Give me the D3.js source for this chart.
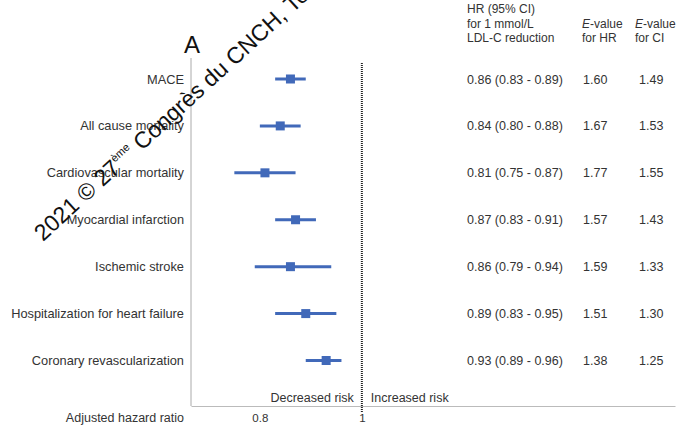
<!DOCTYPE html>
<html>
<head>
<meta charset="utf-8">
<script src="https://cdn.jsdelivr.net/npm/d3@7"></script>
<style>
  body { margin: 0; background: #fff; }
  svg { display: block; font-family: "Liberation Sans", Arial, sans-serif; }
</style>
</head>
<body>
<svg id="chart" width="687" height="425"></svg>
<script>
// Forest plot: HR per 1 mmol/L LDL-C reduction

const outcomes = ['MACE', 'All cause mortality', 'Cardiovascular mortality', 'Myocardial infarction',
  'Ischemic stroke', 'Hospitalization for heart failure', 'Coronary revascularization'];
const hr = [0.86, 0.84, 0.81, 0.87, 0.86, 0.89, 0.93];
const ciLow = [0.83, 0.80, 0.75, 0.83, 0.79, 0.83, 0.89];
const ciHigh = [0.89, 0.88, 0.87, 0.91, 0.94, 0.95, 0.96];
const eHR = ['1.60', '1.67', '1.77', '1.57', '1.59', '1.51', '1.38'];
const eCI = ['1.49', '1.53', '1.55', '1.43', '1.33', '1.30', '1.25'];
const xTicks = [0.8, 1];

const rows = outcomes.map((name, i) => ({
  name: name, hr: hr[i], lo: ciLow[i], hi: ciHigh[i], eHR: eHR[i], eCI: eCI[i]
}));

const svg = d3.select('#chart');
const blue = '#4169B9';
const textColor = '#333';
const fs = 12.5;

const x = d3.scaleLinear().domain([0.665, 1.614]).range([191, 675]);
const y = d3.scalePoint().domain(outcomes).range([79, 360.5]);
const axisY = 406;

// Panel letter
svg.append('text')
  .attr('x', 192).attr('y', 53)
  .attr('text-anchor', 'middle')
  .attr('font-size', 24)
  .attr('fill', '#111')
  .text('A');

// Left axis line
svg.append('line')
  .attr('x1', 191).attr('x2', 191)
  .attr('y1', 58).attr('y2', axisY)
  .attr('stroke', '#aaa').attr('stroke-width', 1);

// Bottom axis
const xAxis = d3.axisBottom(x)
  .tickValues(xTicks)
  .tickSize(0)
  .tickPadding(8)
  .tickFormat(d => d === 1 ? '1' : d3.format('.1f')(d));

const gx = svg.append('g')
  .attr('transform', `translate(0,${axisY})`)
  .call(xAxis);
gx.select('.domain').attr('stroke', '#bbb');
gx.selectAll('text')
  .attr('font-size', 11.5)
  .attr('fill', textColor)
  .style('font-family', '"Liberation Sans", Arial, sans-serif');

// Reference line at HR = 1
svg.append('line')
  .attr('x1', x(1)).attr('x2', x(1))
  .attr('y1', 63).attr('y2', 412)
  .attr('stroke', '#222')
  .attr('stroke-width', 2)
  .attr('stroke-dasharray', '1,1');

svg.append('text')
  .attr('x', x(1) - 8).attr('y', 401.5)
  .attr('text-anchor', 'end')
  .attr('font-size', fs)
  .attr('fill', textColor)
  .text('Decreased risk');

svg.append('text')
  .attr('x', x(1) + 9).attr('y', 401.5)
  .attr('font-size', fs)
  .attr('fill', textColor)
  .text('Increased risk');

svg.append('text')
  .attr('x', 184).attr('y', 421.5)
  .attr('text-anchor', 'end')
  .attr('font-size', fs)
  .attr('fill', textColor)
  .text('Adjusted hazard ratio');

// Row labels
svg.append('g')
  .selectAll('text')
  .data(rows)
  .enter().append('text')
  .attr('x', 184)
  .attr('y', d => y(d.name) + 4.5)
  .attr('text-anchor', 'end')
  .attr('font-size', 12.8)
  .attr('fill', textColor)
  .text(d => d.name);

// CI whiskers
svg.append('g')
  .selectAll('line')
  .data(rows)
  .enter().append('line')
  .attr('x1', d => x(d.lo))
  .attr('x2', d => x(d.hi))
  .attr('y1', d => y(d.name))
  .attr('y2', d => y(d.name))
  .attr('stroke', blue)
  .attr('stroke-width', 3);

// Point estimates
const sq = 9;
svg.append('g')
  .selectAll('rect')
  .data(rows)
  .enter().append('rect')
  .attr('x', d => x(d.hr) - sq / 2)
  .attr('y', d => y(d.name) - sq / 2)
  .attr('width', sq)
  .attr('height', sq)
  .attr('fill', blue);

// Table header
const header = svg.append('g')
  .attr('font-size', 12)
  .attr('fill', textColor);

['HR (95% CI)', 'for 1 mmol/L', 'LDL-C reduction'].forEach((t, i) => {
  header.append('text').attr('x', 467).attr('y', 13 + i * 14.5).text(t);
});

function evalHeader(xPos, second) {
  const t = header.append('text').attr('x', xPos).attr('y', 27.5);
  t.append('tspan').attr('font-style', 'italic').text('E');
  t.append('tspan').text('-value');
  header.append('text').attr('x', xPos).attr('y', 42).text(second);
}
evalHeader(582, 'for HR');
evalHeader(635, 'for CI');

// Table values
const table = svg.append('g')
  .attr('font-size', fs)
  .attr('fill', textColor);

table.selectAll('.hr')
  .data(rows)
  .enter().append('text')
  .attr('x', 467)
  .attr('y', d => y(d.name) + 4.5)
  .text(d => `${d.hr.toFixed(2)} (${d.lo.toFixed(2)} - ${d.hi.toFixed(2)})`);

table.selectAll('.ehr')
  .data(rows)
  .enter().append('text')
  .attr('x', 583)
  .attr('y', d => y(d.name) + 4.5)
  .text(d => d.eHR);

table.selectAll('.eci')
  .data(rows)
  .enter().append('text')
  .attr('x', 639)
  .attr('y', d => y(d.name) + 4.5)
  .text(d => d.eCI);

// Watermark
const wm = svg.append('text')
  .attr('transform', 'translate(43,242) rotate(-42.5)')
  .attr('font-size', 23)
  .attr('fill', '#111');
wm.append('tspan').text('2021 © 27');
wm.append('tspan').attr('font-size', 11).attr('dy', -10).text('ème');
wm.append('tspan').attr('dy', 10).text(' Congrès du CNCH, Tours');
</script>
</body>
</html>
